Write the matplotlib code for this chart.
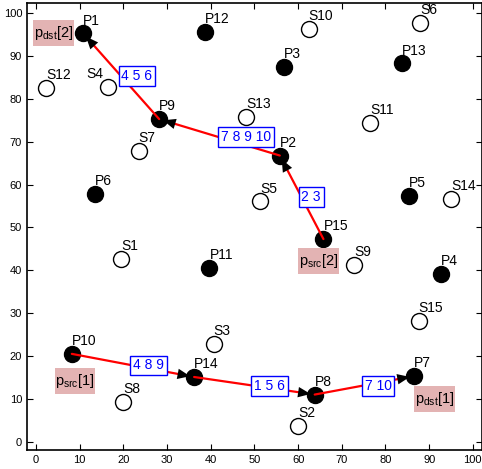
#Sensor network routing plot:
    #filled nodes P1..P15, open nodes S1..S15
    #two red routes with arrows, blue edge labels and pink src/dst tags

import numpy as np
import matplotlib.pyplot as plt
from matplotlib.patches import FancyArrowPatch, Rectangle

plt.rcParams['font.family'] = ['Liberation Sans', 'DejaVu Sans']

#Node positions
p_x = [10.8, 55.8, 56.8, 92.8, 85.4, 13.5, 86.5, 63.8, 28.2, 8.2, 39.7, 38.6, 83.8, 36.2, 65.8]
p_y = [95.3, 66.8, 87.4, 39.1, 57.4, 57.8, 15.3, 11.0, 75.3, 20.5, 40.5, 95.6, 88.3, 15.1, 47.3]
s_x = [19.5, 60.0, 40.7, 16.5, 51.3, 87.9, 23.5, 20.0, 72.9, 62.4, 76.5, 2.3, 48.1, 95.1, 87.6]
s_y = [42.7, 3.7, 22.8, 82.9, 56.1, 97.8, 67.9, 9.2, 41.3, 96.4, 74.5, 82.6, 75.9, 56.7, 28.2]

#Routes (P node numbers) and labels on each hop
route1 = [10, 14, 8, 7]
route1_labels = ['4 8 9', '1 5 6', '7 10']
route1_label_x = [25.8, 53.5, 78.3]
route1_label_y = [17.8, 13.0, 13.0]

route2 = [15, 2, 9, 1]
route2_labels = ['2 3', '7 8 9 10', '4 5 6']
route2_label_x = [63.0, 48.1, 23.1]
route2_label_y = [57.1, 71.1, 85.3]

#Source / destination tags
tag_text = [r'$\mathregular{p_{src}[1]}$', r'$\mathregular{p_{dst}[1]}$',
            r'$\mathregular{p_{src}[2]}$', r'$\mathregular{p_{dst}[2]}$']
tag_x = [8.9, 91.2, 64.7, 4.0]
tag_y = [14.2, 10.0, 42.2, 95.4]

fig = plt.figure(figsize=(4.82, 4.69), dpi=100)
ax = fig.add_axes([27/482, 19/469, 455/482, 447/469])

#Nodes
ax.plot(p_x, p_y, 'o', color='k', markersize=11.5, zorder=2)
ax.plot(s_x, s_y, 'o', markerfacecolor='white', markeredgecolor='k',
        markersize=11.5, markeredgewidth=1, zorder=2)
for i in range(len(p_x)):
    ax.text(p_x[i], p_y[i] + 3, 'P%d' % (i + 1), fontsize=10, ha='left', va='center')
for i in range(len(s_x)):
    if i == 3:
        #S4 label sits left of its node
        ax.text(s_x[i] - 1, s_y[i] + 3, 'S%d' % (i + 1), fontsize=10, ha='right', va='center')
    else:
        ax.text(s_x[i], s_y[i] + 3, 'S%d' % (i + 1), fontsize=10, ha='left', va='center')

#Routes
def draw_route(route, labels, lx, ly):
    for k in range(len(route) - 1):
        a = route[k] - 1
        b = route[k + 1] - 1
        src = (p_x[a], p_y[a])
        dst = (p_x[b], p_y[b])
        ax.annotate('', xy=dst, xytext=src,
                    arrowprops=dict(arrowstyle='-', color='red', lw=1.6,
                                    shrinkA=0, shrinkB=10), zorder=3)
        d = np.array(dst) - np.array(src)
        d = d / np.hypot(d[0], d[1])
        start = np.array(dst) - d * 6
        head = FancyArrowPatch(tuple(start), dst,
                               arrowstyle='-|>,head_length=0.6,head_width=0.25',
                               mutation_scale=15, color='k', lw=0,
                               shrinkA=0, shrinkB=3, zorder=4)
        ax.add_patch(head)
        ax.text(lx[k], ly[k], labels[k], fontsize=10, color='blue',
                ha='center', va='center', zorder=5,
                bbox=dict(boxstyle='square,pad=0.2', facecolor='white',
                          edgecolor='blue', lw=1))

draw_route(route1, route1_labels, route1_label_x, route1_label_y)
draw_route(route2, route2_labels, route2_label_x, route2_label_y)

#pink tags: box about 9.3 x 6.1 data units
tag_w = 9.3
tag_h = 6.1
for i in range(len(tag_text)):
    ax.add_patch(Rectangle((tag_x[i] - tag_w/2, tag_y[i] - tag_h/2), tag_w, tag_h,
                           facecolor='#e3b3b3', edgecolor='none', zorder=5))
    ax.text(tag_x[i], tag_y[i], tag_text[i], fontsize=10.5, color='k',
            ha='center', va='center', zorder=6)

ax.set_xlim(-2.06, 102.1)
ax.set_ylim(-1.94, 102.4)
ax.set_xticks(np.arange(0, 101, 10))
ax.set_yticks(np.arange(0, 101, 10))
ax.tick_params(direction='in', top=True, right=True, labelsize=8, length=4)
for s in ax.spines.values():
    s.set_linewidth(1.2)

plt.savefig('out.png', dpi=100)
